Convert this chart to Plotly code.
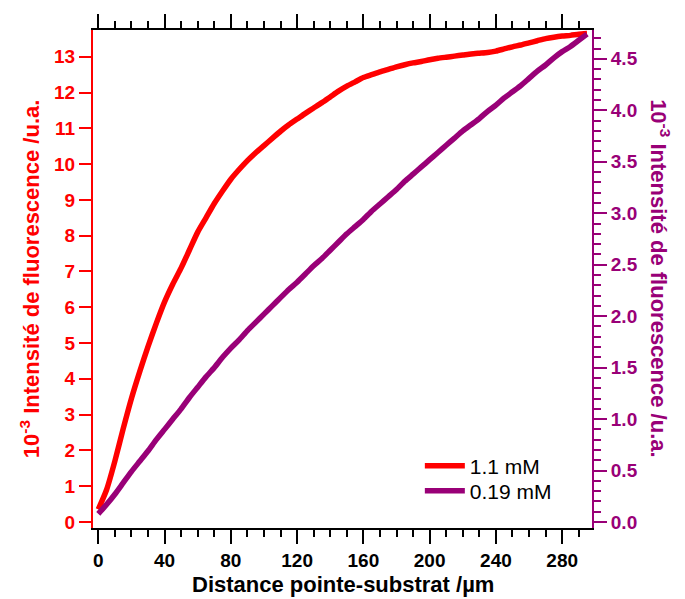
import plotly.graph_objects as go

distance = [0, 5, 10, 15, 20, 25, 30, 35, 40, 45, 50, 55, 60, 65, 70, 75, 80, 85, 90, 95,
            100, 105, 110, 115, 120, 125, 130, 135, 140, 145, 150, 155, 160, 165, 170, 175,
            180, 185, 190, 195, 200, 205, 210, 215, 220, 225, 230, 235, 240, 245, 250, 255,
            260, 265, 270, 275, 280, 285, 290, 295]

intensity_1_1mM = [0.35, 0.9, 1.7, 2.6, 3.45, 4.2, 4.9, 5.55, 6.15, 6.65, 7.1, 7.6, 8.1, 8.5,
                   8.9, 9.25, 9.58, 9.85, 10.1, 10.32, 10.52, 10.72, 10.92, 11.1, 11.26, 11.42,
                   11.57, 11.72, 11.88, 12.04, 12.18, 12.3, 12.42, 12.5, 12.58, 12.65, 12.72,
                   12.78, 12.83, 12.87, 12.92, 12.96, 12.99, 13.02, 13.05, 13.08, 13.1, 13.12,
                   13.16, 13.22, 13.28, 13.33, 13.39, 13.45, 13.51, 13.55, 13.58, 13.6, 13.63,
                   13.65]

intensity_0_19mM = [0.08, 0.17, 0.27, 0.38, 0.49, 0.59, 0.69, 0.8, 0.9, 1.0, 1.1, 1.21, 1.31,
                    1.41, 1.5, 1.6, 1.69, 1.77, 1.86, 1.94, 2.02, 2.1, 2.18, 2.26, 2.33, 2.41,
                    2.49, 2.56, 2.64, 2.72, 2.8, 2.87, 2.94, 3.02, 3.09, 3.16, 3.23, 3.31, 3.38,
                    3.45, 3.52, 3.59, 3.66, 3.73, 3.8, 3.86, 3.92, 3.99, 4.05, 4.12, 4.18, 4.24,
                    4.31, 4.38, 4.44, 4.51, 4.57, 4.62, 4.68, 4.74]

series_names = ["1.1 mM", "0.19 mM"]
x_title = "Distance pointe-substrat /µm"
y_title = "10<sup>-3</sup> Intensité de fluorescence /u.a."

RED = "#ff0000"
PURPLE = "#990077"
FONT = "Liberation Sans, Arial, sans-serif"

fig = go.Figure()
fig.add_trace(go.Scatter(x=distance, y=intensity_1_1mM, name=series_names[0], mode="lines",
                         line=dict(color=RED, width=5.5, shape="spline", smoothing=0.6),
                         yaxis="y", legend="legend"))
fig.add_trace(go.Scatter(x=distance, y=intensity_0_19mM, name=series_names[1], mode="lines",
                         line=dict(color=PURPLE, width=5.5, shape="spline", smoothing=0.6),
                         yaxis="y2", legend="legend2"))

legend_common = dict(xanchor="left", yanchor="middle",
                     font=dict(size=21, color="black", family=FONT),
                     bgcolor="rgba(0,0,0,0)", itemwidth=40)

fig.update_layout(
    width=677, height=591,
    margin=dict(l=85, r=93, t=22, b=71),
    plot_bgcolor="white", paper_bgcolor="white",
    font=dict(family=FONT),
    showlegend=True,
    legend=dict(x=0.655, y=0.1245, **legend_common),
    legend2=dict(x=0.655, y=0.0743, **legend_common),
    xaxis=dict(range=[-3.2, 298], tickmode="linear", tick0=0, dtick=40,
               ticks="outside", ticklen=14, tickwidth=2, tickcolor="black",
               minor=dict(dtick=10, ticks="outside", ticklen=7, tickwidth=2, tickcolor="black"),
               showline=True, linecolor="black", linewidth=2, mirror="ticks",
               showgrid=False, zeroline=False, automargin=False,
               tickfont=dict(size=19, color="black", family=FONT, weight="bold")),
    yaxis=dict(range=[-0.17, 13.75], tickmode="linear", tick0=0, dtick=1,
               ticks="outside", ticklen=12, tickwidth=2, tickcolor=RED,
               showline=True, linecolor=RED, linewidth=2,
               showgrid=False, zeroline=False, automargin=False,
               tickfont=dict(size=19, color=RED, family=FONT, weight="bold")),
    yaxis2=dict(range=[-0.058, 4.78], tickmode="linear", tick0=0, dtick=0.5,
                tickformat=".1f", overlaying="y", side="right",
                ticks="outside", ticklen=13, tickwidth=2, tickcolor=PURPLE,
                minor=dict(dtick=0.1, ticks="outside", ticklen=7, tickwidth=2, tickcolor=PURPLE),
                showline=True, linecolor=PURPLE, linewidth=2,
                showgrid=False, zeroline=False, automargin=False,
                tickfont=dict(size=19, color=PURPLE, family=FONT, weight="bold")),
    annotations=[
        dict(text=y_title, xref="paper", yref="paper", x=-0.126, y=0.5,
             xanchor="center", yanchor="middle", textangle=-90, showarrow=False,
             font=dict(size=22, color=RED, family=FONT, weight="bold")),
        dict(text=y_title, xref="paper", yref="paper", x=1.136, y=0.5,
             xanchor="center", yanchor="middle", textangle=90, showarrow=False,
             font=dict(size=22, color=PURPLE, family=FONT, weight="bold")),
        dict(text=x_title, xref="paper", yref="paper", x=0.5, y=-0.114,
             xanchor="center", yanchor="middle", showarrow=False,
             font=dict(size=22, color="black", family=FONT, weight="bold")),
    ],
)

fig.write_html("out.html")
